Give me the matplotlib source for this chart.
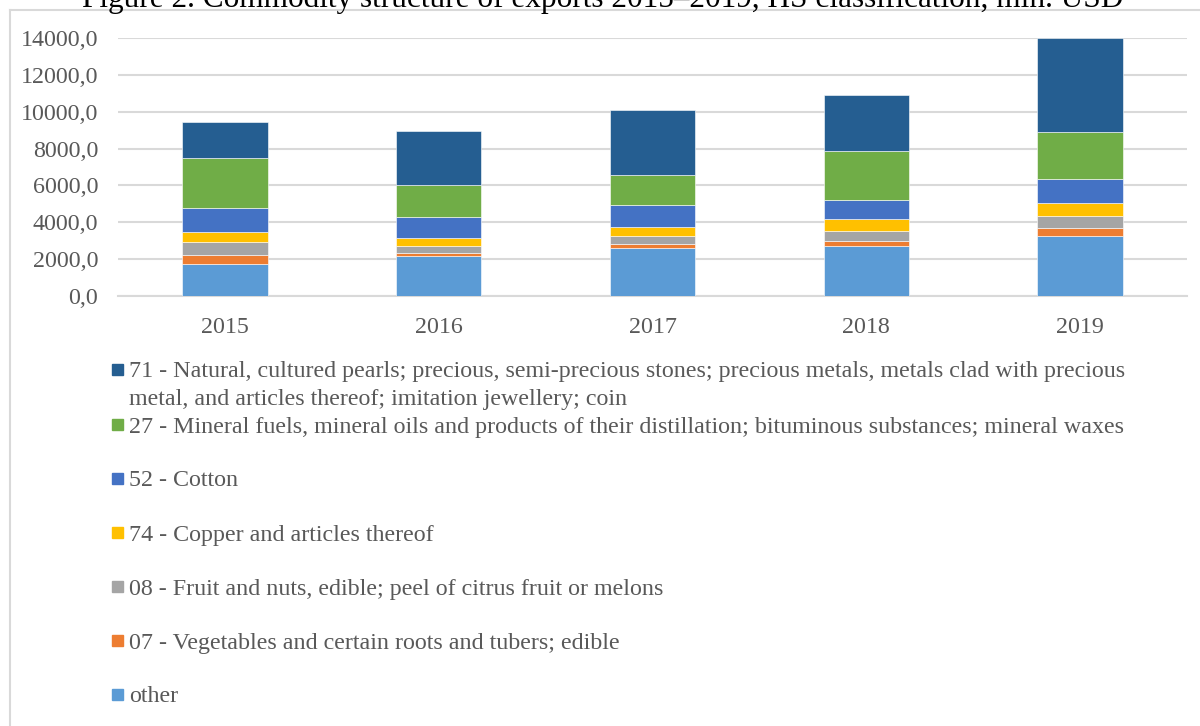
import matplotlib
matplotlib.use("Agg")
import matplotlib.pyplot as plt
from matplotlib.patches import Rectangle
from matplotlib.lines import Line2D
import numpy as np

plt.rcParams['font.family'] = ['Liberation Serif', 'DejaVu Serif']

# Exports by HS commodity group, mln. USD
years = ["2015", "2016", "2017", "2018", "2019"]
other = [1730, 2160, 2580, 2690, 3240]
hs07 = [490, 200, 220, 290, 470]
hs08 = [690, 330, 440, 550, 640]
hs74 = [540, 440, 520, 630, 710]
hs52 = [1310, 1180, 1190, 1040, 1310]
hs27 = [2730, 1730, 1600, 2670, 2540]
hs71 = [1930, 2910, 3540, 3040, 5090]

label_71 = ["71 - Natural, cultured pearls; precious, semi-precious stones; precious metals, metals clad with precious",
            "metal, and articles thereof; imitation jewellery; coin"]
label_27 = "27 - Mineral fuels, mineral oils and products of their distillation; bituminous substances; mineral waxes"
label_52 = "52 - Cotton"
label_74 = "74 - Copper and articles thereof"
label_08 = "08 - Fruit and nuts, edible; peel of citrus fruit or melons"
label_07 = "07 - Vegetables and certain roots and tubers; edible"
label_other = "other"

y_ticks = [0, 2000, 4000, 6000, 8000, 10000, 12000, 14000]

colors = {
    "other": "#5B9BD5", "07": "#ED7D31", "08": "#A5A5A5", "74": "#FFC000",
    "52": "#4472C4", "27": "#70AD47", "71": "#255E91",
}

# stacking order bottom -> top
stack = [
    (other, colors["other"]),
    (hs07, colors["07"]),
    (hs08, colors["08"]),
    (hs74, colors["74"]),
    (hs52, colors["52"]),
    (hs27, colors["27"]),
    (hs71, colors["71"]),
]

W, H = 1200, 726
fig = plt.figure(figsize=(W / 100, H / 100), dpi=100)
fig.patch.set_facecolor("white")

def fx(px):
    return px / W

def fy(py):
    return 1 - py / H

ax = fig.add_axes([fx(118), fy(296), fx(1187) - fx(118), fy(38) - fy(296)])
x = np.arange(len(years))
bottom = np.zeros(len(years))
for vals, col in stack:
    v = np.array(vals, dtype=float)
    ax.bar(x, v, width=0.4, bottom=bottom, color=col, edgecolor="white",
           linewidth=0.4, zorder=3)
    bottom += v

ax.set_xlim(-0.5, len(years) - 0.5)
ax.set_ylim(0, 14000)
ax.set_yticks(y_ticks)
ax.set_yticklabels([f"{t:.1f}".replace(".", ",") for t in y_ticks])
ax.set_xticks(x)
ax.set_xticklabels(years)
ax.tick_params(axis="both", length=0, colors="#595959", labelsize=17.3)
ax.tick_params(axis="y", pad=14.4)
ax.tick_params(axis="x", pad=15)
ax.grid(axis="y", color="#D9D9D9", linewidth=1.5, zorder=0)
for s in ["top", "right", "left"]:
    ax.spines[s].set_visible(False)
ax.spines["bottom"].set_color("#D9D9D9")
ax.spines["bottom"].set_linewidth(1.5)
ax.set_facecolor("none")

# chart frame
fig.add_artist(Line2D([fx(10), fx(1200)], [fy(10), fy(10)], color="#D9D9D9", linewidth=1.5))
fig.add_artist(Line2D([fx(10), fx(10)], [fy(10), fy(726)], color="#D9D9D9", linewidth=1.5))

# title (sits above the frame)
fig.text(fx(603), fy(7), "Figure 2. Commodity structure of exports 2015\u20132019, HS classification, mln. USD",
         ha="center", va="baseline", fontsize=22.5, color="black")

# legend, top to bottom: (colour, text lines, row centre in px)
legend_rows = [
    (colors["71"], label_71, 369),
    (colors["27"], [label_27], 424),
    (colors["52"], [label_52], 478),
    (colors["74"], [label_74], 532),
    (colors["08"], [label_08], 586),
    (colors["07"], [label_07], 640),
    (colors["other"], [label_other], 694),
]
for col, lines, ypx in legend_rows:
    fig.add_artist(Rectangle((fx(112), fy(ypx + 5.5)), fx(11), 11 / H, color=col,
                             transform=fig.transFigure))
    for i, line in enumerate(lines):
        fig.text(fx(129), fy(ypx + 8.5 + 28 * i), line, ha="left", va="baseline",
                 fontsize=17.3, color="#595959")

fig.savefig("out.png", dpi=100)
